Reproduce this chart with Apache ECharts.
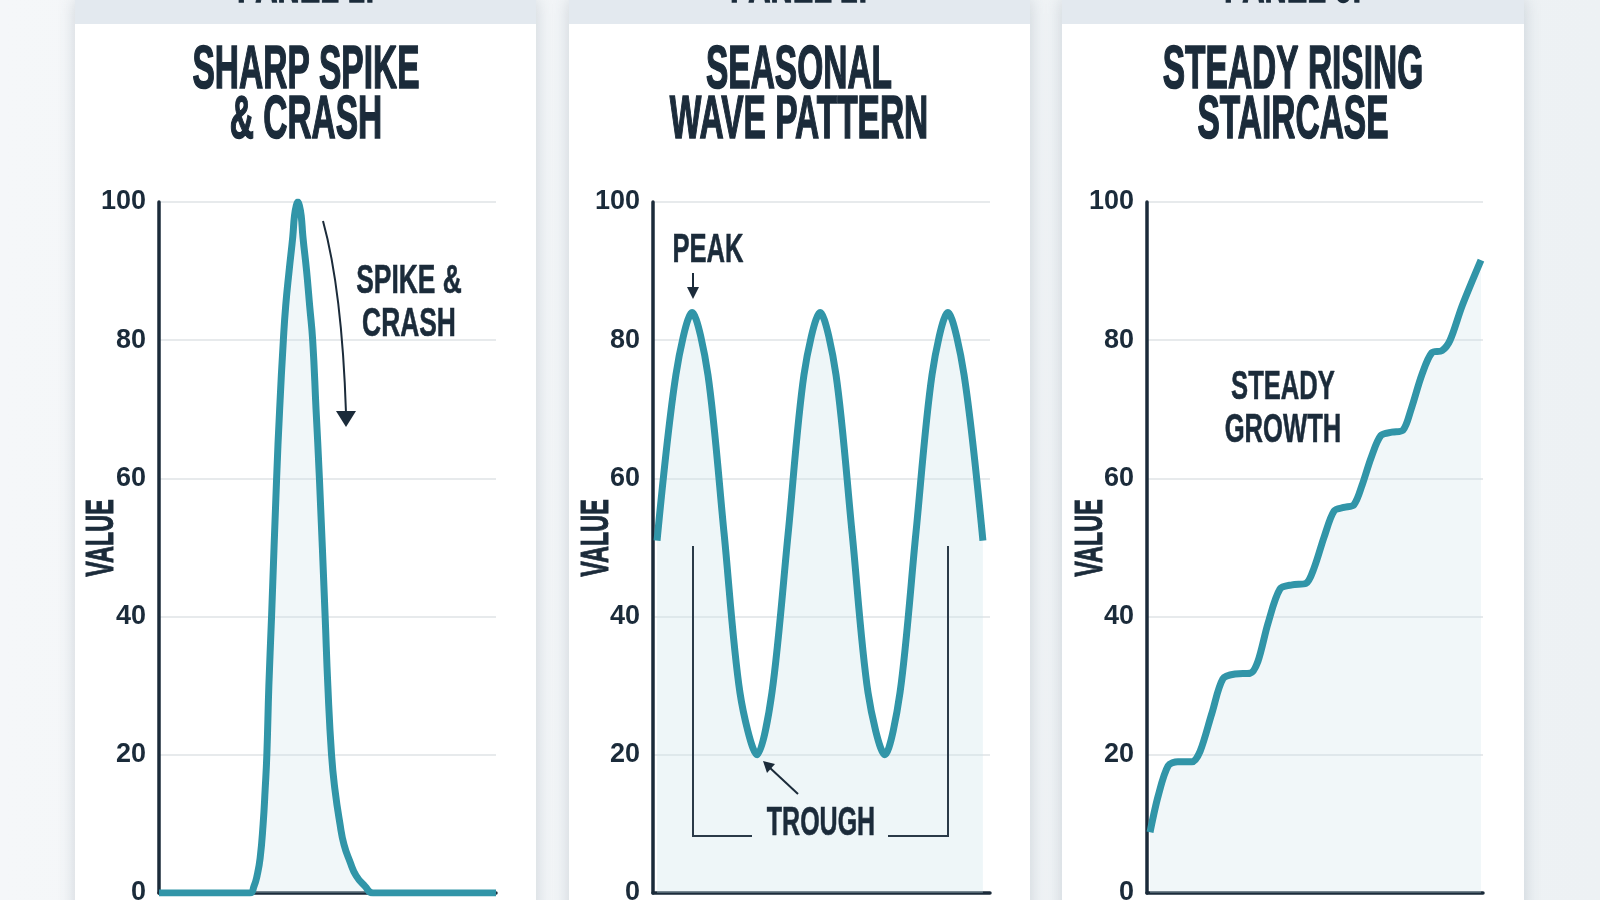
<!DOCTYPE html>
<html>
<head>
<meta charset="utf-8">
<script src="https://cdn.jsdelivr.net/npm/echarts@6/dist/echarts.min.js"></script>
<style>
  html, body { margin: 0; padding: 0; }
  body { width: 1600px; height: 900px; overflow: hidden; background: linear-gradient(90deg, #f5f7f9 0%, #edf1f4 100%); position: relative; }
  .card { position: absolute; top: 0; height: 960px; background: #fff; box-shadow: 0 0 16px rgba(70, 90, 110, 0.22); }
  .card .band { height: 24px; background: #e3e9ef; }
  #chart { position: absolute; left: 0; top: 0; width: 1600px; height: 900px; }
</style>
</head>
<body>
<div class="card" style="left:75px;width:461px"><div class="band"></div></div>
<div class="card" style="left:569px;width:461px"><div class="band"></div></div>
<div class="card" style="left:1062px;width:462px"><div class="band"></div></div>
<div id="chart"></div>
<script>
// panel texts
const panelLabels = ['PANEL 1:', 'PANEL 2:', 'PANEL 3:']
const titles = [['SHARP SPIKE', '& CRASH'], ['SEASONAL', 'WAVE PATTERN'], ['STEADY RISING', 'STAIRCASE']]

// value axis
const yMin = 0
const yMax = 100
const yStep = 20

// panel 1: spike & crash (x 0-100 across the plot)
const spikeX = [0, 20, 27, 28.2, 29.1, 30, 30.9, 31.5, 32, 32.6, 33.4, 34.9, 35.8, 36.9, 37.6, 38.6, 39.7, 40.2, 40.75, 41.2, 41.65, 42.2, 42.7, 43.8, 44.7, 45.6, 46.6, 47.6, 49.3, 50.1, 51.2, 52.2, 53.7, 54.9, 56.7, 58.5, 61.1, 63.5, 80, 100]
const spikeY = [0, 0, 0, 1, 2.5, 5, 10, 15, 20, 30, 40, 60, 70, 80, 85, 90, 95, 98, 99.5, 100, 99.5, 98, 95, 90, 85, 80, 70, 60, 40, 30, 20, 15, 10, 7, 4.5, 2.5, 1, 0, 0, 0]

// panel 2: seasonal wave
const waveX = [1.2, 6.8, 11.6, 16.3, 21.1, 25.8, 30.9, 35.3, 40.1, 44.8, 49.6, 54.3, 59.1, 63.8, 68.8, 73.3, 78.0, 82.8, 87.5, 92.3, 97.9]
const waveY = [51, 75, 84, 75, 52, 29, 20, 29, 52, 75, 84, 75, 52, 29, 20, 29, 52, 75, 84, 75, 51]

// panel 3: rising staircase
const stairX = [0.9, 3.3, 6.3, 9.2, 13.4, 15.8, 19.3, 22.6, 26.2, 30.7, 33, 36, 39.6, 43.2, 47.3, 49.7, 52.7, 55.7, 58.6, 61.6, 64, 66.7, 69.6, 72.9, 76.2, 78.6, 81.8, 84.8, 87.8, 90.2, 93.8, 99.4]
const stairY = [8.8, 14, 18.4, 19, 19, 20.5, 26, 31, 31.7, 31.8, 33.5, 39, 44, 44.6, 44.8, 47, 51.5, 55.3, 55.8, 56.2, 59, 63, 66.2, 66.7, 67, 70, 75, 78.2, 78.5, 80, 85, 91.6]

const ink = '#1b2b3a'
const teal = '#3195a8'
const condensed = 'bold {s}px "Liberation Sans", Arial, sans-serif'

function label(text, x, y, size, sx, weight, rotation) {
  return {
    type: 'text', x: x, y: y, scaleX: sx, rotation: rotation || 0, z: 50,
    style: {
      text: text, font: condensed.replace('{s}', size), fill: ink,
      stroke: ink, lineWidth: weight || 0,
      textAlign: 'center', textVerticalAlign: 'middle'
    }
  }
}

const chart = echarts.init(document.getElementById('chart'), null, { renderer: 'canvas' })

const grids = [
  { left: 159, top: 202, width: 337, height: 691 },
  { left: 653, top: 202, width: 337, height: 691 },
  { left: 1147, top: 202, width: 336, height: 691 }
]
const centers = [306, 799, 1293]
const valueX = [102, 597, 1091]
const smoothness = [0.5, 0.3, 0.3]
const pairs = [
  spikeX.map((x, i) => [x, spikeY[i]]),
  waveX.map((x, i) => [x, waveY[i]]),
  stairX.map((x, i) => [x, stairY[i]])
]

const graphics = []
centers.forEach((cx, i) => {
  graphics.push(label(panelLabels[i], cx, -13, 56, 0.55, 1.5))
  graphics.push(label(titles[i][0], cx, 71, 62, 0.54, 1.6))
  graphics.push(label(titles[i][1], cx, 121, 62, 0.54, 1.6))
  graphics.push(label('VALUE', valueX[i], 538, 39, 0.6, 1, Math.PI / 2))
})

// annotations
graphics.push(label('SPIKE &', 409, 282, 40, 0.66, 0.6))
graphics.push(label('CRASH', 409, 325, 40, 0.66, 0.6))
graphics.push({ type: 'bezierCurve', z: 50, shape: { x1: 323, y1: 221, cpx1: 342, cpy1: 290, x2: 346, y2: 413 }, style: { stroke: ink, lineWidth: 2, fill: null } })
graphics.push({ type: 'polygon', z: 50, shape: { points: [[336, 411], [356, 411], [346, 427]] }, style: { fill: ink } })

graphics.push(label('PEAK', 708, 251, 40, 0.64, 0.6))
graphics.push({ type: 'line', z: 50, shape: { x1: 693, y1: 273, x2: 693, y2: 290 }, style: { stroke: ink, lineWidth: 2 } })
graphics.push({ type: 'polygon', z: 50, shape: { points: [[687, 287], [699, 287], [693, 299]] }, style: { fill: ink } })

graphics.push(label('TROUGH', 821, 824, 41, 0.61, 0.6))
graphics.push({ type: 'polyline', z: 50, shape: { points: [[693, 546], [693, 836], [752, 836]] }, style: { stroke: '#2a3a48', lineWidth: 2, fill: null } })
graphics.push({ type: 'polyline', z: 50, shape: { points: [[888, 836], [948, 836], [948, 546]] }, style: { stroke: '#2a3a48', lineWidth: 2, fill: null } })
graphics.push({ type: 'line', z: 50, shape: { x1: 798, y1: 794, x2: 769, y2: 767 }, style: { stroke: ink, lineWidth: 2 } })
graphics.push({ type: 'polygon', z: 50, shape: { points: [[763, 761], [775, 764], [767, 773]] }, style: { fill: ink } })

graphics.push(label('STEADY', 1283, 388, 40, 0.64, 0.6))
graphics.push(label('GROWTH', 1283, 431, 40, 0.64, 0.6))

const option = {
  animation: false,
  backgroundColor: 'transparent',
  grid: grids.map(g => Object.assign({ containLabel: false, outerBoundsMode: 'none' }, g)),
  xAxis: grids.map((g, i) => ({
    type: 'value', gridIndex: i, min: 0, max: 100,
    axisLine: { show: true, onZero: false, lineStyle: { color: ink, width: 3.5 } },
    axisTick: { show: false }, axisLabel: { show: false }, splitLine: { show: false }
  })),
  yAxis: grids.map((g, i) => ({
    type: 'value', gridIndex: i, min: yMin, max: yMax, interval: yStep,
    axisLine: { show: true, lineStyle: { color: ink, width: 3.5 } },
    axisTick: { show: false },
    axisLabel: { color: ink, fontSize: 27, fontWeight: 'bold', fontFamily: '"Liberation Sans Narrow", "Liberation Sans", sans-serif', margin: 13 },
    splitLine: { lineStyle: { color: '#dfe3e6', width: 1.5 } }
  })),
  series: pairs.map((d, i) => ({
    type: 'line', xAxisIndex: i, yAxisIndex: i, data: d,
    smooth: smoothness[i], showSymbol: false, z: 5,
    lineStyle: { color: teal, width: 7, join: 'round' },
    areaStyle: { color: i === 1 ? 'rgba(200, 226, 234, 0.45)' : 'rgba(205, 228, 235, 0.4)' }
  })),
  graphic: graphics
}
chart.setOption(option)
</script>
</body>
</html>
